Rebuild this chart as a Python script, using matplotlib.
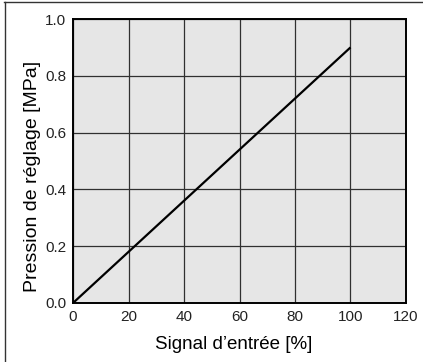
import matplotlib
matplotlib.use("Agg")
import matplotlib.pyplot as plt
from matplotlib.lines import Line2D

plt.rcParams['font.family'] = ['Liberation Sans', 'DejaVu Sans']

# signal d'entrée [%] -> pression de réglage [MPa]
signal = [0, 100]
pression = [0.0, 0.9]
xticks = [0, 20, 40, 60, 80, 100, 120]
yticks = [0.0, 0.2, 0.4, 0.6, 0.8, 1.0]

fig = plt.figure(figsize=(4.23, 3.62), dpi=100)
ax = fig.add_axes([0.1726, 0.163, 0.7872, 0.7845])
ax.set_facecolor('#e6e6e6')

ax.plot(signal, pression, color='black', lw=1.6, solid_capstyle='butt', zorder=3)

ax.set_xlim(0, 120)
ax.set_ylim(0, 1.0)
ax.set_xticks(xticks)
ax.set_yticks(yticks)
ax.set_xticklabels([str(v) for v in xticks])
ax.set_yticklabels([f"{v:.1f}" for v in yticks])
ax.tick_params(length=0, labelsize=11, pad=5, colors='#222222')
ax.grid(True, color='#303030', lw=0.9)
for s in ax.spines.values():
    s.set_linewidth(1.4)
    s.set_zorder(4)

ax.set_xlabel('Signal d\u2019entrée [%]', fontsize=13.5, labelpad=9)
ax.set_ylabel('Pression de réglage [MPa]', fontsize=14, labelpad=3)
ax.xaxis.label.set_x(0.482)
ax.yaxis.label.set_y(0.444)

# cadre extérieur (gauche et haut)
fig.add_artist(Line2D([4.5 / 423, 4.5 / 423], [0, 1 - 1.5 / 362], transform=fig.transFigure, color='#333333', lw=1.0))
fig.add_artist(Line2D([4 / 423, 1], [1 - 1.5 / 362, 1 - 1.5 / 362], transform=fig.transFigure, color='#333333', lw=1.0))

fig.savefig('out.png', dpi=100)
